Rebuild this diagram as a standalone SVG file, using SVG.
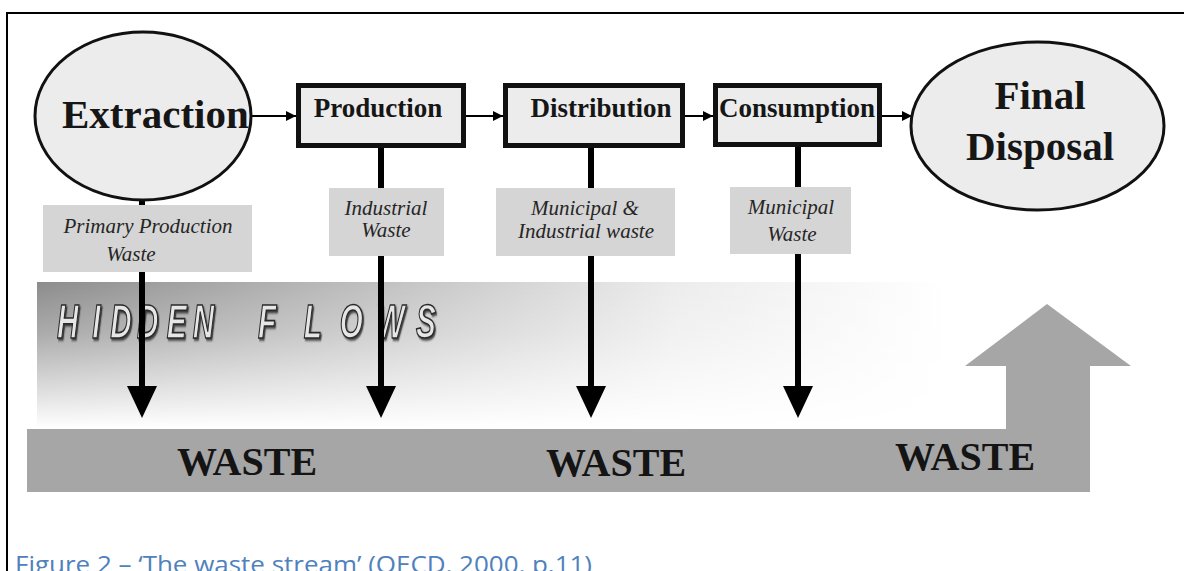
<svg xmlns="http://www.w3.org/2000/svg" width="1184" height="571" viewBox="0 0 1184 571">
  <defs>
    <style>
      .node-fill { fill: #ececec; stroke: #111; }
      .oval { stroke-width: 3; }
      .box { stroke-width: 5; }
      .big { font-family: "Liberation Serif", "Times New Roman", serif; font-weight: bold; fill: #161616; }
      .lbl-bg { fill: #d5d5d5; }
      .lbl { font-family: "Liberation Serif", "Times New Roman", serif; font-style: italic; font-size: 21px; fill: #262626; text-anchor: middle; }
      .flow { stroke: #000; stroke-width: 2; fill: none; }
      .drop { stroke: #000; stroke-width: 6; fill: none; }
      .head { fill: #000; }
      .waste { font-family: "Liberation Serif", "Times New Roman", serif; font-weight: bold; font-size: 40px; fill: #141414; }
    </style>
    <marker id="tip" viewBox="0 0 10 10" refX="10" refY="5" markerWidth="11" markerHeight="10" markerUnits="userSpaceOnUse" orient="auto">
      <path d="M0,0 L10,5 L0,10 Z" fill="#000"/>
    </marker>
    <linearGradient id="hiddenH" x1="0" y1="0" x2="1" y2="0">
      <stop offset="0" stop-color="#8c8c8c"/>
      <stop offset="0.4" stop-color="#c4c4c4"/>
      <stop offset="0.7" stop-color="#ececec"/>
      <stop offset="1" stop-color="#ffffff"/>
    </linearGradient>
    <linearGradient id="fadeV" x1="0" y1="0" x2="0" y2="1">
      <stop offset="0" stop-color="#fff"/>
      <stop offset="0.35" stop-color="#bbb"/>
      <stop offset="1" stop-color="#000"/>
    </linearGradient>
    <mask id="hiddenMask" maskUnits="userSpaceOnUse" x="0" y="270" width="1184" height="170">
      <rect x="0" y="282" width="1184" height="146" fill="url(#fadeV)"/>
    </mask>
    <filter id="engrave" x="-10%" y="-20%" width="130%" height="150%">
      <feDropShadow dx="2" dy="2" stdDeviation="1" flood-color="#222" flood-opacity="0.8"/>
    </filter>
  </defs>

  <rect width="1184" height="571" fill="#fff"/>

  <!-- page frame (cut at right and bottom) -->
  <path d="M7,571 V13 H1184" fill="none" stroke="#000" stroke-width="2"/>

  <!-- hidden flows backdrop -->
  <g id="hidden-flows">
    <rect x="37" y="282" width="910" height="146" fill="url(#hiddenH)" mask="url(#hiddenMask)"/>
    <text transform="scale(0.62,1)" y="338" x="92 149 178 221 269 311 360 416 490 548 607 671"
          font-family="'Liberation Sans', Arial, sans-serif" font-weight="bold" font-style="italic"
          font-size="48" fill="#e6e6e6" stroke="#2a2a2a" stroke-width="1.6" filter="url(#engrave)">HIDDEN FLOWS</text>
  </g>

  <!-- waste stream band with upward arrow -->
  <g id="waste-stream">
    <path d="M27,429 H1006 V366 H965 L1047,304 L1131,366 H1090 V492 H27 Z" fill="#a6a6a6"/>
    <text class="waste" x="177" y="475">WASTE</text>
    <text class="waste" x="546" y="476">WASTE</text>
    <text class="waste" x="895" y="470">WASTE</text>
  </g>

  <!-- connectors -->
  <g id="connectors">
    <line class="flow" x1="251" y1="116" x2="296" y2="116" marker-end="url(#tip)"/>
    <line class="flow" x1="466" y1="116" x2="503" y2="116" marker-end="url(#tip)"/>
    <line class="flow" x1="685" y1="116" x2="713" y2="116" marker-end="url(#tip)"/>
    <line class="flow" x1="882" y1="116" x2="912" y2="116" marker-end="url(#tip)"/>

    <line class="drop" x1="142" y1="200" x2="142" y2="390"/>
    <path class="head" d="M127,386 H157 L142,418 Z"/>
    <line class="drop" x1="381" y1="148" x2="381" y2="390"/>
    <path class="head" d="M366,386 H396 L381,418 Z"/>
    <line class="drop" x1="591" y1="148" x2="591" y2="390"/>
    <path class="head" d="M576,386 H606 L591,418 Z"/>
    <line class="drop" x1="798" y1="147" x2="798" y2="390"/>
    <path class="head" d="M783,386 H813 L798,418 Z"/>

    <g id="label-primary">
      <rect class="lbl-bg" x="43" y="205" width="209" height="67"/>
      <text class="lbl" x="148" y="233">Primary Production</text>
      <text class="lbl" x="131" y="261">Waste</text>
    </g>
    <g id="label-industrial">
      <rect class="lbl-bg" x="329" y="188" width="115" height="68"/>
      <text class="lbl" x="386" y="215">Industrial</text>
      <text class="lbl" x="386" y="237">Waste</text>
    </g>
    <g id="label-mixed">
      <rect class="lbl-bg" x="496" y="188" width="179" height="68"/>
      <text class="lbl" x="585" y="215">Municipal &amp;</text>
      <text class="lbl" x="586" y="238">Industrial waste</text>
    </g>
    <g id="label-municipal">
      <rect class="lbl-bg" x="730" y="187" width="121" height="67"/>
      <text class="lbl" x="791" y="214">Municipal</text>
      <text class="lbl" x="792" y="241">Waste</text>
    </g>
  </g>

  <!-- nodes -->
  <g id="extraction">
    <ellipse class="node-fill oval" cx="143" cy="116" rx="108" ry="84"/>
    <text class="big" x="62" y="128" font-size="41">Extraction</text>
  </g>
  <g id="production">
    <rect class="node-fill box" x="298.5" y="85.5" width="165" height="60"/>
    <text class="big" x="378" y="117" font-size="27" text-anchor="middle">Production</text>
  </g>
  <g id="distribution">
    <rect class="node-fill box" x="505.5" y="85.5" width="177" height="60"/>
    <text class="big" x="601" y="117" font-size="27" text-anchor="middle">Distribution</text>
  </g>
  <g id="consumption">
    <rect class="node-fill box" x="715.5" y="85.5" width="164" height="59"/>
    <text class="big" x="797" y="117" font-size="27" text-anchor="middle">Consumption</text>
  </g>
  <g id="final-disposal">
    <ellipse class="node-fill oval" cx="1037.5" cy="126" rx="126.5" ry="84"/>
    <text class="big" x="1040" y="109" font-size="41" text-anchor="middle">Final</text>
    <text class="big" x="1040" y="160" font-size="41" text-anchor="middle">Disposal</text>
  </g>

  <!-- caption, running off the bottom edge -->
  <text x="15" y="573" font-family="'Open Sans', 'Liberation Sans', sans-serif" font-size="24" fill="#4f81bd"
        textLength="577" lengthAdjust="spacingAndGlyphs">Figure 2 – ‘The waste stream’ (OECD, 2000, p.11)</text>
</svg>
